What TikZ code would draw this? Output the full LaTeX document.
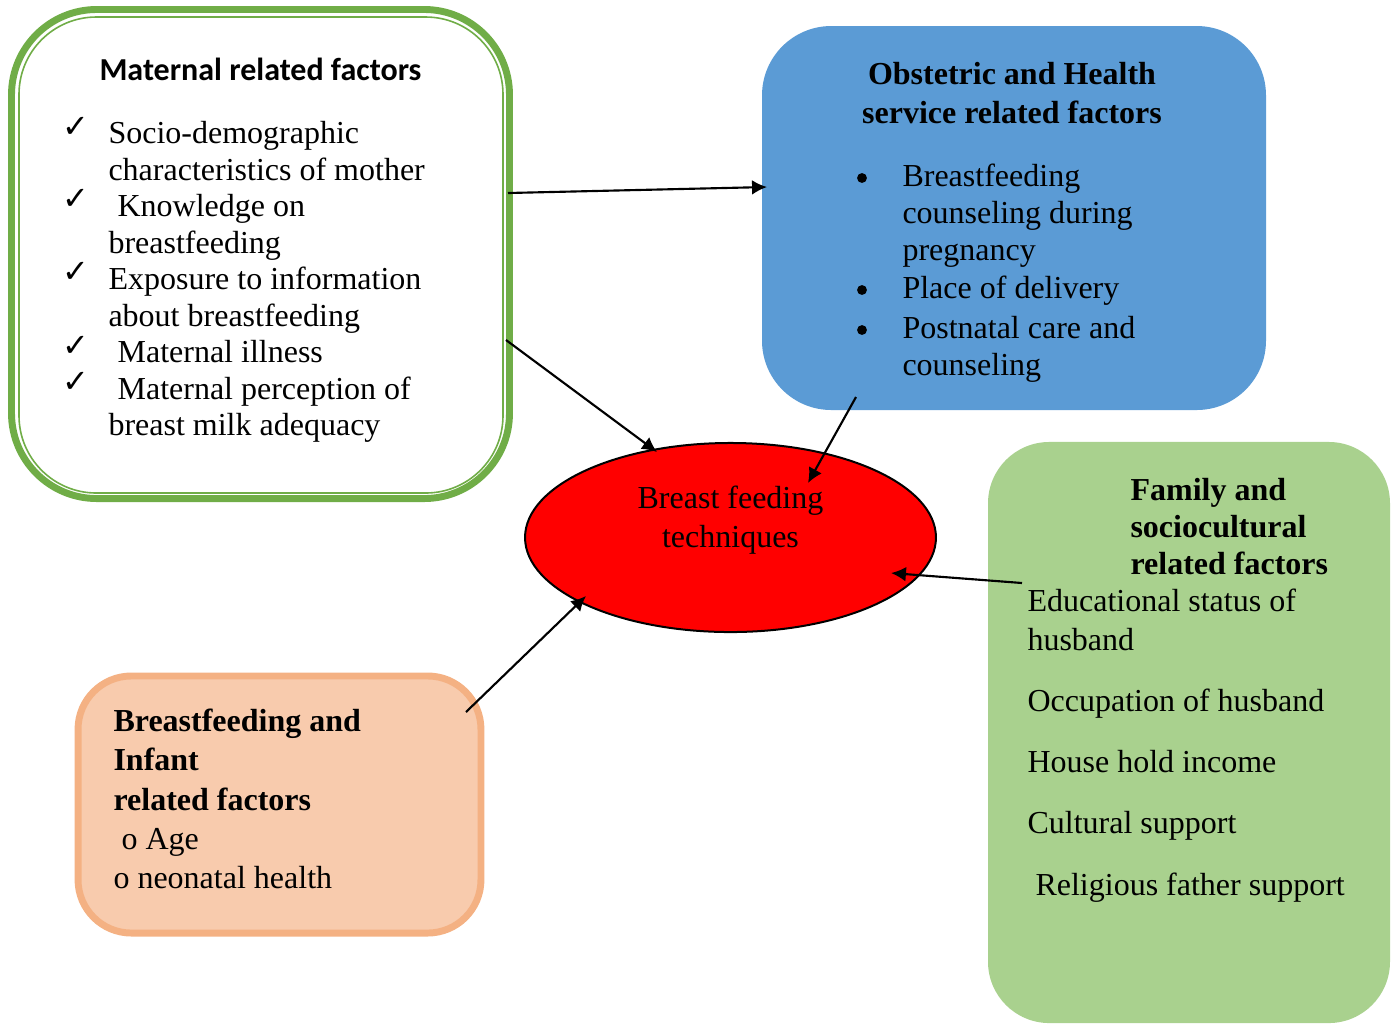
\documentclass[tikz,border=0pt]{standalone}
\usepackage{fontspec}
\setmainfont{Liberation Serif}
\newfontfamily\calibri{Carlito}
\newfontfamily\symb{DejaVu Sans}
\usetikzlibrary{arrows.meta,shapes.geometric}

\definecolor{matgreen}{HTML}{70AD47}
\definecolor{obsblue}{HTML}{5B9BD5}
\definecolor{famgreen}{HTML}{A9D18E}
\definecolor{inffill}{HTML}{F8CBAD}
\definecolor{infborder}{HTML}{F4B183}

\tikzset{
    box/.style={rectangle, inner sep=0pt, outer sep=0pt},
    txt/.style={inner sep=0pt, anchor=north west, align=left},
    arr/.style={-{Latex[length=5.6pt,width=5.5pt]}, line width=0.8pt},
}

\begin{document}
\begin{tikzpicture}[x=0.375pt, y=-0.375pt,
        every node/.append style={font=\fontsize{12}{14.6}\selectfont}]
    \useasboundingbox (0,0) rectangle (1397,1024);
    % boxes
    \node[box, draw=matgreen, line width=2.6pt, rounded corners=32pt,
        minimum width=186.75pt, minimum height=183.4pt] (mat) at (260.5,254) {};
    \node[box, draw=matgreen, line width=0.6pt, rounded corners=29pt,
        minimum width=181.5pt, minimum height=178.5pt] (matin) at (261,255) {};
    \node[box, fill=obsblue, rounded corners=26pt,
        minimum width=189pt, minimum height=144pt] (obs) at (1014,218) {};
    \node[box, fill=famgreen, rounded corners=23pt,
        minimum width=150.75pt, minimum height=217.9pt] (fam) at (1189,732.5) {};
    \node[box, fill=inffill, draw=infborder, line width=2.6pt, rounded corners=20pt,
        minimum width=151.1pt, minimum height=96.4pt] (inf) at (279.5,804.5) {};
    \node[ellipse, draw, fill=red, line width=0.75pt, inner sep=0pt, outer sep=0pt,
        minimum width=154.1pt, minimum height=70.9pt] (bf) at (730.5,537.5) {};

    % maternal
    \node[anchor=base, inner sep=0pt, font=\calibri\bfseries\fontsize{12}{14}\selectfont]
        (matttl) at (260.5,80) {Maternal related factors};
    \foreach \y [count=\i] in {143,215,288,362,398}
        \node[anchor=base west, inner sep=0pt, font=\symb\bfseries\fontsize{12}{13}\selectfont]
            (chk\i) at (62,\y-6) {✓};
    \node[txt, font=\fontsize{12}{13.7}\selectfont] (matlist) at (108,117.4)
        {\strut Socio-demographic\\
         characteristics of mother\\
         \hspace*{3.4pt}Knowledge on\\
         breastfeeding\\
         Exposure to information\\
         about breastfeeding\\
         \hspace*{3.4pt}Maternal illness\\
         \hspace*{3.4pt}Maternal perception of\\
         breast milk adequacy};

    % obstetric
    \node[anchor=north, align=center, inner sep=0pt, font=\bfseries\fontsize{12}{14.6}\selectfont]
        (obsttl) at (1012,56.75) {\strut Obstetric and Health\\service related factors};
    \foreach \y [count=\i] in {186,298,338}
        \node[circle, fill, inner sep=0pt, minimum size=3.7pt] (dot\i) at (862,\y-8) {};
    \node[txt, font=\fontsize{12}{13.9}\selectfont] (obs1) at (902,160.05)
        {\strut Breastfeeding\\counseling during\\pregnancy};
    \node[anchor=base west, inner sep=0pt] (obs2) at (902,298) {Place of delivery};
    \node[txt, font=\fontsize{12}{13.9}\selectfont] (obs3) at (902,312.05)
        {\strut Postnatal care and\\counseling};

    % centre
    \node[anchor=north, align=center, inner sep=0pt]
        (bfttl) at (730.5,480.75) {\strut Breast feeding\\techniques};

    % family
    \node[txt, font=\bfseries\fontsize{12}{13.9}\selectfont] (famttl) at (1130,474.05)
        {\strut Family and\\sociocultural\\related factors};
    \node[txt] (fam1) at (1027,583.75)
        {\strut Educational status of\\husband};
    \foreach \y/\x/\t [count=\i] in {711/1027/Occupation of husband,
            772/1027/House hold income, 833/1027/Cultural support,
            895/1035/Religious father support}
        \node[anchor=base west, inner sep=0pt] (famit\i) at (\x,\y) {\t};

    % infant
    \node[txt, font=\fontsize{12}{14.72}\selectfont] (inftxt) at (113,703.5)
        {\strut\textbf{Breastfeeding and}\\
         \textbf{Infant}\\
         \textbf{related factors}\\
         \hspace*{3pt}o Age\\
         o neonatal health};

    % arrows
    \draw[arr] ([shift={(247.5,-61)}]mat.center) -- ([shift={(-247,-31)}]obs.center);
    \draw[arr] ([shift={(245.5,86)}]mat.center) -- ([shift={(-73.5,-85.5)}]bf.center);
    \draw[arr] ([shift={(-158,179)}]obs.center) -- ([shift={(77.5,-54.5)}]bf.center);
    \draw[arr] ([shift={(-167,-149.5)}]fam.center) -- ([shift={(160.5,35.5)}]bf.center);
    \draw[arr] ([shift={(186.5,-92.5)}]inf.center) -- ([shift={(-144.5,58.5)}]bf.center);
\end{tikzpicture}
\end{document}
